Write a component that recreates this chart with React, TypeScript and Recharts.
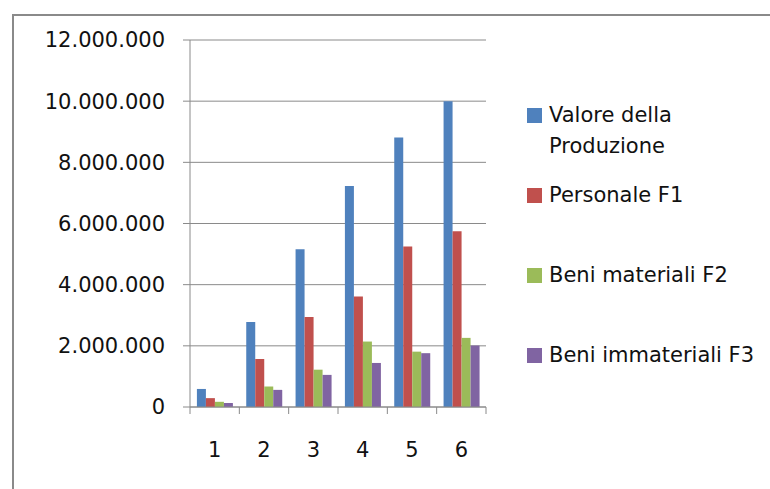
import React from 'react';
import { BarChart, Bar, XAxis, YAxis, CartesianGrid } from 'recharts';

const categories = ['1', '2', '3', '4', '5', '6'];
const valoreProduzione = [590000, 2780000, 5160000, 7230000, 8810000, 10000000];
const personaleF1 = [290000, 1570000, 2940000, 3610000, 5250000, 5750000];
const beniMaterialiF2 = [170000, 670000, 1220000, 2140000, 1810000, 2260000];
const beniImmaterialiF3 = [130000, 560000, 1050000, 1440000, 1760000, 2010000];
const yTicks = [0, 2000000, 4000000, 6000000, 8000000, 10000000, 12000000];

const seriesNames = ['Valore della Produzione', 'Personale F1', 'Beni materiali F2', 'Beni immateriali F3'];
const seriesKeys = ['valore', 'personale', 'materiali', 'immateriali'];
const seriesColors = ['#4F81BD', '#C0504D', '#9BBB59', '#8064A2'];

const data = categories.map((c, i) => ({
  cat: c,
  valore: valoreProduzione[i],
  personale: personaleF1[i],
  materiali: beniMaterialiF2[i],
  immateriali: beniImmaterialiF3[i],
}));

const FONT = '"DejaVu Sans", sans-serif';
const AXIS = '#8a8a8a';

const fmt = (v: number) => String(v).replace(/\B(?=(\d{3})+(?!\d))/g, '.');

const XTick = (props: any) => {
  const { x, y, payload, width, visibleTicksCount, index } = props;
  const bw = width / visibleTicksCount;
  const left = x - bw / 2;
  return (
    <g>
      <line x1={left} x2={left} y1={y} y2={y + 7} stroke={AXIS} strokeWidth={1} />
      {index === visibleTicksCount - 1 && (
        <line x1={x + bw / 2} x2={x + bw / 2} y1={y} y2={y + 7} stroke={AXIS} strokeWidth={1} />
      )}
      <text x={x} y={y + 43} dy="0.355em" textAnchor="middle" fill="#111" fontSize={21} fontFamily={FONT}>
        {payload.value}
      </text>
    </g>
  );
};

export default function App() {
  return (
    <div style={{ position: 'absolute', left: 0, top: 0, width: 770, height: 489, background: '#fff', overflow: 'hidden' }}>
      <div
        style={{
          position: 'absolute',
          left: 12,
          top: 14,
          width: 800,
          height: 520,
          borderLeft: `2px solid ${AXIS}`,
          borderTop: `2px solid ${AXIS}`,
        }}
      />
      <div style={{ position: 'absolute', left: 0, top: 0 }}>
        <BarChart
          width={770}
          height={489}
          data={data}
          margin={{ top: 40, right: 284, bottom: 0, left: 0 }}
          barCategoryGap="14%"
          barGap={0}
        >
          <CartesianGrid vertical={false} stroke={AXIS} strokeWidth={1} />
          <XAxis
            dataKey="cat"
            height={82}
            axisLine={{ stroke: AXIS }}
            tickLine={false}
            tickSize={0}
            tickMargin={0}
            tick={<XTick />}
            interval={0}
          />
          <YAxis
            width={190}
            domain={[0, 12000000]}
            ticks={yTicks}
            interval={0}
            tickFormatter={fmt}
            axisLine={{ stroke: AXIS }}
            tickLine={{ stroke: AXIS }}
            tickSize={7}
            tickMargin={18}
            tick={{ fill: '#111', fontSize: 21, fontFamily: FONT }}
          />
          {seriesKeys.map((k, i) => (
            <Bar key={k} dataKey={k} name={seriesNames[i]} fill={seriesColors[i]} isAnimationActive={false} />
          ))}
        </BarChart>
      </div>
      <div style={{ position: 'absolute', left: 527, top: 100, fontFamily: FONT, fontSize: 21, color: '#111' }}>
        {seriesNames.map((n, i) => (
          <div key={n} style={{ position: 'absolute', left: 0, top: i * 80, display: 'flex', alignItems: 'flex-start', width: 240 }}>
            <div style={{ width: 15, height: 15, marginTop: 8, background: seriesColors[i], flex: 'none' }} />
            <div style={{ marginLeft: 7, lineHeight: '31px', width: 215 }}>{n}</div>
          </div>
        ))}
      </div>
    </div>
  );
}
